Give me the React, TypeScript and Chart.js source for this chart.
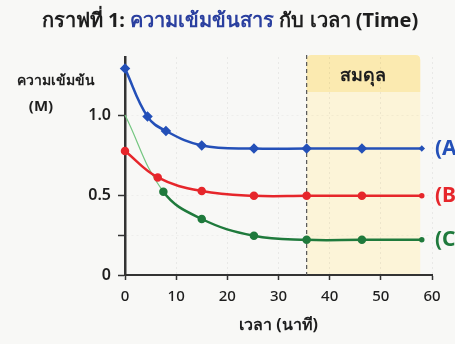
import React, { useEffect, useRef } from 'react';
import { Chart, registerables } from 'chart.js';

Chart.register(...registerables);

// ---- data ----
const X_MAX = 60;
const X_STEP = 10;
const Y_TICK_VALUES = [0, 0.25, 0.5, 1.0];
const Y_TICK_LABELS = ['0', '', '0.5', '1.0'];

const A_TIME = [0, 4.4, 8, 15, 25.2, 35.5, 46.3, 58];
const A_CONC = [1.29, 0.99, 0.9, 0.81, 0.79, 0.79, 0.79, 0.79];
const B_TIME = [0, 6.4, 15, 25.2, 35.5, 46.3, 58];
const B_CONC = [0.775, 0.61, 0.525, 0.495, 0.495, 0.495, 0.495];
const C_TIME = [0, 7.5, 15, 25.2, 35.5, 46.3, 58];
const C_CONC = [1.0, 0.52, 0.35, 0.245, 0.22, 0.22, 0.22];

const SERIES_LABELS = ['(A)', '(B)', '(C)'];
const EQ_START = 35.5;
const EQ_END = 57.7;
const EQ_LABEL = 'สมดุล';
const TITLE_PARTS = ['กราฟที่ 1: ', 'ความเข้มข้นสาร', ' กับ เวลา (Time)'];
const Y_TITLE = ['ความเข้มข้น', '(M)'];
const X_TITLE = 'เวลา (นาที)';

// ---- styles ----
const FONT = '"Noto Sans", sans-serif';
const BLUE = '#2450b8';
const RED = '#e6262b';
const GREEN = '#1f7a3c';
const LIGHT_GREEN = '#74c680';
const TITLE_BLUE = '#2a3f9f';
const INK = '#1e1e1e';

const pts = (t: number[], c: number[]) => t.map((x, i) => ({ x, y: c[i] }));
const radii = (t: number[], r: number, first = r) =>
  t.map((_, i) => (i === 0 ? first : i === t.length - 1 ? 1.5 : r));

const decor = {
  id: 'decor',
  beforeDraw(chart: any) {
    const { ctx, chartArea, scales } = chart;
    const x0 = scales.x.getPixelForValue(EQ_START);
    const x1 = scales.x.getPixelForValue(EQ_END);
    const top = chartArea.top - 2;
    const bottom = chartArea.bottom;
    const headerH = 37;
    const r = 5;
    ctx.save();
    const path = (h: number) => {
      ctx.beginPath();
      ctx.moveTo(x0, top + h);
      ctx.lineTo(x0, top + r);
      ctx.quadraticCurveTo(x0, top, x0 + r, top);
      ctx.lineTo(x1 - r, top);
      ctx.quadraticCurveTo(x1, top, x1, top + r);
      ctx.lineTo(x1, top + h);
      ctx.closePath();
    };
    path(bottom - top);
    ctx.fillStyle = '#fcf4d8';
    ctx.fill();
    path(headerH);
    ctx.fillStyle = '#fbeab0';
    ctx.fill();
    ctx.fillStyle = INK;
    ctx.font = `bold 18px ${FONT}`;
    ctx.textAlign = 'center';
    ctx.textBaseline = 'middle';
    ctx.fillText(EQ_LABEL, (x0 + x1) / 2, top + headerH / 2 + 2);
    ctx.restore();
  },
  beforeDatasetsDraw(chart: any) {
    const { ctx, chartArea, scales } = chart;
    const x0 = scales.x.getPixelForValue(EQ_START);
    ctx.save();
    ctx.strokeStyle = '#555';
    ctx.lineWidth = 1.2;
    ctx.setLineDash([4, 3]);
    ctx.beginPath();
    ctx.moveTo(x0, chartArea.top - 2);
    ctx.lineTo(x0, chartArea.bottom);
    ctx.stroke();
    ctx.restore();
  },
  afterDraw(chart: any) {
    const { ctx, chartArea, scales } = chart;
    ctx.save();
    // title
    ctx.font = `bold 20px ${FONT}`;
    ctx.textBaseline = 'middle';
    ctx.textAlign = 'left';
    const widths = TITLE_PARTS.map((p) => ctx.measureText(p).width);
    const total = widths.reduce((a, b) => a + b, 0);
    let x = 230 - total / 2;
    const colors = [INK, TITLE_BLUE, INK];
    TITLE_PARTS.forEach((p, i) => {
      ctx.fillStyle = colors[i];
      ctx.fillText(p, x, 21);
      x += widths[i];
    });
    // y title
    ctx.fillStyle = INK;
    ctx.textAlign = 'center';
    ctx.font = `bold 14px ${FONT}`;
    ctx.fillText(Y_TITLE[0], 56, 81);
    ctx.font = `bold 15px ${FONT}`;
    ctx.fillText(Y_TITLE[1], 41, 107);
    // series labels
    ctx.textAlign = 'left';
    ctx.font = `bold 21px ${FONT}`;
    const cols = [BLUE, RED, GREEN];
    const lasts = [A_CONC, B_CONC, C_CONC].map((a) => a[a.length - 1]);
    SERIES_LABELS.forEach((s, i) => {
      ctx.fillStyle = cols[i];
      ctx.fillText(s, chartArea.right + 3, scales.y.getPixelForValue(lasts[i]));
    });
    ctx.restore();
  },
};

export default function App() {
  const ref = useRef<HTMLCanvasElement>(null);
  useEffect(() => {
    const chart = new Chart(ref.current!, {
      type: 'line',
      data: {
        datasets: [
          {
            label: 'A',
            data: pts(A_TIME, A_CONC),
            borderColor: BLUE,
            backgroundColor: BLUE,
            borderWidth: 2.5,
            pointStyle: 'rectRot',
            pointRadius: radii(A_TIME, 3.5),
            tension: 0.4,
            clip: false,
          },
          {
            label: 'B',
            data: pts(B_TIME, B_CONC),
            borderColor: RED,
            backgroundColor: RED,
            borderWidth: 2.5,
            pointRadius: radii(B_TIME, 3),
            tension: 0.4,
            clip: false,
          },
          {
            label: 'C',
            data: pts(C_TIME, C_CONC),
            borderColor: GREEN,
            backgroundColor: GREEN,
            borderWidth: 2.5,
            pointRadius: radii(C_TIME, 3, 0),
            tension: 0.4,
            clip: false,
            segment: {
              borderColor: (c: any) => (c.p0DataIndex === 0 ? LIGHT_GREEN : undefined),
              borderWidth: (c: any) => (c.p0DataIndex === 0 ? 1.2 : undefined),
            },
          } as any,
        ],
      },
      options: {
        responsive: false,
        devicePixelRatio: 1,
        animation: false,
        layout: { padding: { top: 57, right: 23, left: 0, bottom: 0 } },
        plugins: { legend: { display: false }, title: { display: false }, tooltip: { enabled: false } },
        scales: {
          x: {
            type: 'linear',
            min: 0,
            max: X_MAX,
            ticks: { stepSize: X_STEP, color: INK, font: { family: FONT, size: 15, weight: '500' }, padding: 8 },
            grid: { color: 'rgba(0,0,0,0.06)', tickColor: '#333', tickLength: 5, tickWidth: 1.5 },
            border: { color: '#333', width: 2, dash: [2, 3] },
            title: {
              display: true,
              text: X_TITLE,
              color: INK,
              font: { family: FONT, size: 16, weight: 'bold' },
              padding: { top: 0, bottom: 9 },
            },
            afterFit: (s: any) => {
              s.height = 69;
            },
          },
          y: {
            type: 'linear',
            min: 0,
            max: 1.3625,
            afterBuildTicks: (s: any) => {
              s.ticks = Y_TICK_VALUES.map((v) => ({ value: v }));
            },
            ticks: {
              callback: (_v: any, i: number) => Y_TICK_LABELS[i],
              color: INK,
              font: { family: FONT, size: 16, weight: '600' },
              padding: 7,
            },
            grid: { color: 'rgba(0,0,0,0.04)', tickColor: '#333', tickLength: 7, tickWidth: 1.5 },
            border: { color: '#333', width: 2.5, dash: [2, 3] },
            afterFit: (s: any) => {
              s.width = 125;
            },
          },
        },
      } as any,
      plugins: [decor],
    });
    return () => chart.destroy();
  }, []);
  return (
    <div style={{ position: 'fixed', left: 0, top: 0, width: 455, height: 344, background: '#f8f8f6' }}>
      <canvas ref={ref} width={455} height={344} style={{ display: 'block' }} />
    </div>
  );
}
